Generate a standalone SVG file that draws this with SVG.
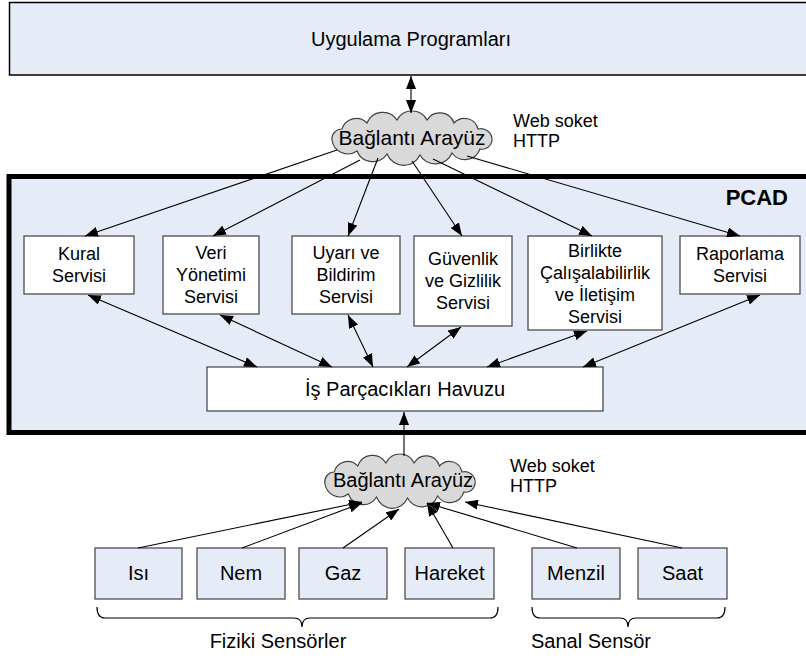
<svg xmlns="http://www.w3.org/2000/svg" width="806" height="659" viewBox="0 0 806 659">
<style>
text{font-family:"Liberation Sans",Arial,sans-serif;fill:#000;}
.t18{font-size:18px;text-anchor:middle;}
.t20{font-size:20px;text-anchor:middle;}
.side{font-size:18px;}
.svc{fill:#fff;stroke:#404040;stroke-width:1.2;}
.sen{fill:#E6ECF7;stroke:#404040;stroke-width:1.2;}
.cloud{fill:#D9D9D9;stroke:#404040;stroke-width:1.2;}
.c{stroke:#000;stroke-width:1.1;fill:none;marker-end:url(#ah);}
.d{stroke:#000;stroke-width:1.1;fill:none;marker-end:url(#ah);marker-start:url(#ah);}
.brace{stroke:#000;stroke-width:1.2;fill:none;}
</style>
<defs>
<marker id="ah" markerUnits="userSpaceOnUse" markerWidth="13" markerHeight="10" refX="13" refY="5" orient="auto-start-reverse">
<path d="M0,0 L13,5 L0,10 z" fill="#000"/>
</marker>
<path id="cloudShape" d="M-80,3 A10,10 0 0 1 -70,-8 A15,15 0 0 1 -45,-14 A17,17 0 0 1 -15,-17 A17,17 0 0 1 15,-17 A15,15 0 0 1 42,-14 A14,14 0 0 1 66,-8 A11,11 0 0 1 80,3 A10,10 0 0 1 68,12 A16,16 0 0 1 40,16 A18,18 0 0 1 8,18 A18,18 0 0 1 -25,17 A17,17 0 0 1 -55,14 A16,16 0 0 1 -80,3 Z"/>
</defs>

<g id="app">
<rect x="9.5" y="2.5" width="800" height="72.5" fill="#E6ECF7" stroke="#000" stroke-width="1.5"/>
<text class="t20" x="411" y="46">Uygulama Programları</text>
</g>

<g id="pcad">
<rect x="9" y="176.5" width="805" height="256" fill="#E6ECF7" stroke="#000" stroke-width="5"/>
<text x="788" y="205" font-size="22" font-weight="bold" text-anchor="end">PCAD</text>
</g>

<g id="cloud1">
<use href="#cloudShape" class="cloud" transform="translate(412,137)"/>
<text x="412" y="145" font-size="21" text-anchor="middle">Bağlantı Arayüz</text>
</g>
<g id="proto1">
<text class="side" x="513" y="127">Web soket</text>
<text class="side" x="513" y="147">HTTP</text>
</g>

<g id="kural">
<rect class="svc" x="24" y="236" width="110" height="58"/>
<text class="t18" x="79" y="260">Kural</text>
<text class="t18" x="79" y="282">Servisi</text>
</g>
<g id="veri">
<rect class="svc" x="163" y="236" width="96" height="78"/>
<text class="t18" x="211" y="259">Veri</text>
<text class="t18" x="211" y="281">Yönetimi</text>
<text class="t18" x="211" y="303">Servisi</text>
</g>
<g id="uyari">
<rect class="svc" x="292" y="236" width="108" height="78"/>
<text class="t18" x="346" y="259">Uyarı ve</text>
<text class="t18" x="346" y="281">Bildirim</text>
<text class="t18" x="346" y="303">Servisi</text>
</g>
<g id="guvenlik">
<rect class="svc" x="414" y="236" width="98" height="90"/>
<text class="t18" x="463" y="265">Güvenlik</text>
<text class="t18" x="463" y="287">ve Gizlilik</text>
<text class="t18" x="463" y="309">Servisi</text>
</g>
<g id="birlikte">
<rect class="svc" x="528" y="236" width="134" height="94"/>
<text class="t18" x="595" y="257">Birlikte</text>
<text class="t18" x="595" y="279">Çalışalabilirlik</text>
<text class="t18" x="595" y="301">ve İletişim</text>
<text class="t18" x="595" y="323">Servisi</text>
</g>
<g id="raporlama">
<rect class="svc" x="680" y="236" width="120" height="58"/>
<text class="t18" x="740" y="260">Raporlama</text>
<text class="t18" x="740" y="282">Servisi</text>
</g>

<g id="havuz">
<rect class="svc" x="207" y="367" width="396" height="44"/>
<text class="t20" x="405" y="396">İş Parçacıkları Havuzu</text>
</g>

<g id="cloud2">
<use href="#cloudShape" class="cloud" transform="translate(400,480) scale(0.94,1)"/>
<text x="403" y="487" font-size="20" text-anchor="middle">Bağlantı Arayüz</text>
</g>
<g id="proto2">
<text class="side" x="510" y="472">Web soket</text>
<text class="side" x="510" y="492">HTTP</text>
</g>

<g id="isi"><rect class="sen" x="95" y="548" width="87" height="51"/><text class="t20" x="138.5" y="580">Isı</text></g>
<g id="nem"><rect class="sen" x="197" y="548" width="88" height="51"/><text class="t20" x="241" y="580">Nem</text></g>
<g id="gaz"><rect class="sen" x="299" y="548" width="88" height="51"/><text class="t20" x="343" y="580">Gaz</text></g>
<g id="hareket"><rect class="sen" x="405" y="548" width="89" height="51"/><text class="t20" x="449.5" y="580">Hareket</text></g>
<g id="menzil"><rect class="sen" x="532" y="548" width="88" height="51"/><text class="t20" x="576" y="580">Menzil</text></g>
<g id="saat"><rect class="sen" x="638" y="548" width="89" height="51"/><text class="t20" x="682.5" y="580">Saat</text></g>

<g id="fiziki">
<path class="brace" d="M97,607 Q97,618 105,618 L294,618 Q302,618 302,627 Q302,618 310,618 L490,618 Q498,618 498,607"/>
<text class="t20" x="278" y="648">Fiziki Sensörler</text>
</g>
<g id="sanal">
<path class="brace" d="M532,607 Q532,618 540,618 L620,618 Q628,618 628,627 Q628,618 636,618 L717,618 Q725,618 725,607"/>
<text class="t20" x="591" y="648">Sanal Sensör</text>
</g>

<g id="connectors">
<line class="d" x1="411" y1="76" x2="411" y2="113"/>
<line class="c" x1="337" y1="150" x2="85" y2="236"/>
<line class="c" x1="360" y1="160" x2="213" y2="236"/>
<line class="c" x1="378" y1="158" x2="348" y2="236"/>
<line class="c" x1="412" y1="161" x2="462" y2="236"/>
<line class="c" x1="433" y1="159" x2="592" y2="236"/>
<line class="c" x1="467" y1="156" x2="740" y2="236"/>
<line class="d" x1="88" y1="295" x2="257" y2="367"/>
<line class="d" x1="220" y1="315" x2="332" y2="367"/>
<line class="d" x1="348" y1="315" x2="373" y2="367"/>
<line class="d" x1="461" y1="327" x2="407" y2="367"/>
<line class="d" x1="587" y1="331" x2="487" y2="367"/>
<line class="d" x1="760" y1="295" x2="583" y2="367"/>
<line class="c" x1="404" y1="456" x2="404" y2="412"/>
<line class="c" x1="138" y1="548" x2="362" y2="502"/>
<line class="c" x1="242" y1="548" x2="362" y2="503"/>
<line class="c" x1="343" y1="548" x2="399" y2="509"/>
<line class="c" x1="453" y1="548" x2="427" y2="503"/>
<line class="c" x1="577" y1="548" x2="427" y2="503"/>
<line class="c" x1="682" y1="548" x2="465" y2="502"/>
</g>
</svg>
